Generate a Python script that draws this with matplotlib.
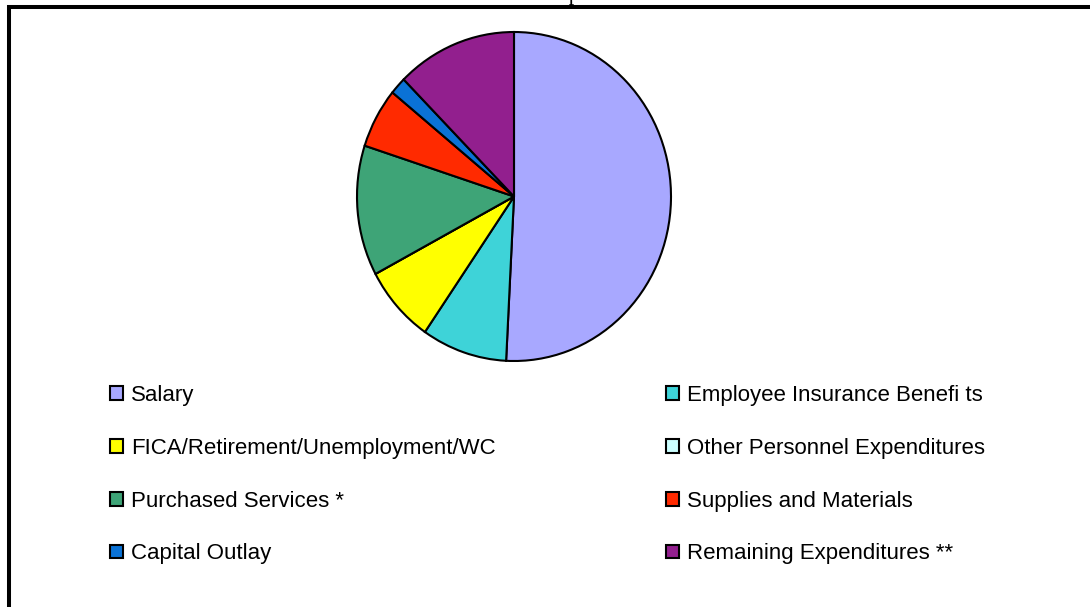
import matplotlib.pyplot as plt
from matplotlib.patches import Rectangle

labels = ["Salary", "Employee Insurance Benefi ts", "FICA/Retirement/Unemployment/WC",
          "Other Personnel Expenditures", "Purchased Services *", "Supplies and Materials",
          "Capital Outlay", "Remaining Expenditures **"]
shares = [50.8, 8.8, 7.6, 0.0, 12.8, 5.9, 1.7, 12.4]
colors = ["#A8A8FF", "#3ED3D8", "#FFFF00", "#CCFFFF",
          "#3EA477", "#FF2A00", "#0A72D6", "#921F8E"]

W, H = 1090, 607
fig = plt.figure(figsize=(W / 100, H / 100), dpi=100)

# frame around the chart (cut at right and bottom)
fig.patches.append(Rectangle((9 / W, -0.1), 1.2, 1 - 7 / H + 0.1, transform=fig.transFigure,
                             fill=False, ec="black", lw=2.9, clip_on=False))
# title sits above the visible area, only its descender peeks in
fig.text(544 / W, 1.0, "Expenditures", family="Liberation Serif", fontsize=16,
         ha="left", va="baseline")

ax = fig.add_axes([357 / W, (H - 361) / H, 314 / W, 329 / H])
wedges, _ = ax.pie(shares, colors=colors, startangle=90, counterclock=False,
                   wedgeprops=dict(edgecolor="black", linewidth=1.5))
ax.set_aspect("auto")
ax.set_xlim(-1, 1)
ax.set_ylim(-1, 1)
ax.axis("off")

fs = 16
for cols, x0 in [([0, 2, 4, 6], 110), ([1, 3, 5, 7], 666)]:
    fig.legend([wedges[i] for i in cols], [labels[i] for i in cols],
               loc="upper left", bbox_to_anchor=(x0 / W, 1 - 385 / H),
               frameon=False, borderpad=0, borderaxespad=0,
               handlelength=0.59, handleheight=0.59, handletextpad=0.36,
               labelspacing=1.43, prop=dict(family="Liberation Sans", size=fs))

fig.savefig("out.png", dpi=100)
